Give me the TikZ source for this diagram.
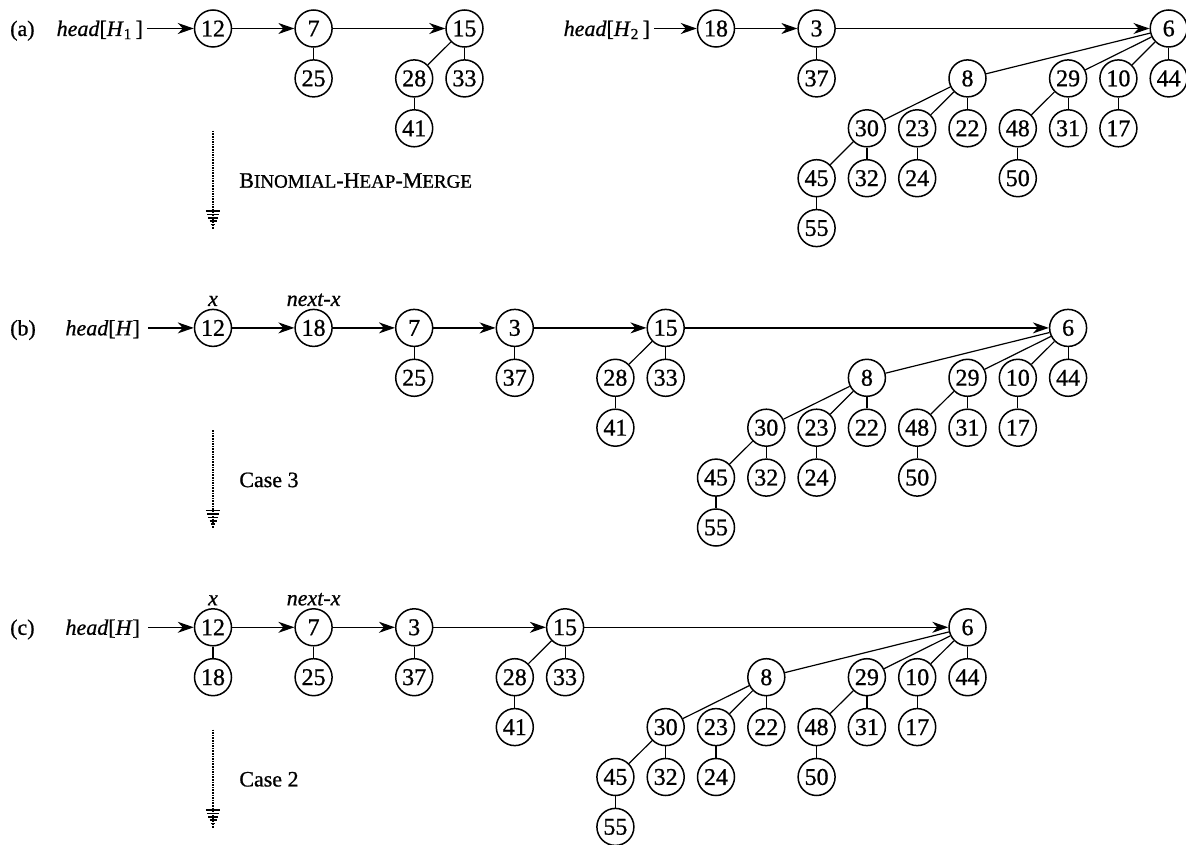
\documentclass[tikz,border=0pt]{standalone}
\usepackage{fontspec}
\setmainfont{Liberation Serif}[FakeBold=0.8]
\usetikzlibrary{arrows.meta}
\tikzset{
  dothead/.pic={
    \foreach \i in {0,...,5}{
      \draw[line width=1.6pt] ({-(1+1.25*\i)*1pt},{(1+3.4*\i)*1pt}) -- ({(1+1.25*\i)*1pt},{(1+3.4*\i)*1pt});
    }
  }
}
\begin{document}
\begin{tikzpicture}[x=50.3pt,y=-49.9pt,
  every node/.style={font=\fontsize{22}{26}\selectfont},
  nd/.style={circle,draw,line width=1.5pt,minimum size=37pt,inner sep=0pt,font=\fontsize{24}{28}\selectfont},
  ed/.style={line width=1.2pt},
  lnk/.style={line width=1.2pt,-{Stealth[length=16pt,width=11pt,inset=5pt]}},
  lbl/.style={inner sep=0pt},
  dots/.style={line width=2.3pt,dash pattern=on 1.6pt off 1.0pt}]
\useasboundingbox (-4.2346,-0.571) rectangle (19.344,16.343);

% ---------- labels ----------
\node[lbl,anchor=base west] (alab) at (-4.036,0.15) {(a)};
\node[lbl,anchor=base east] (ahead) at (-1.39,0.15) {\textit{head}[\textit{H}\textsubscript{1}\,]};
\node[lbl,anchor=base east] (ahead2) at (8.69,0.15) {\textit{head}[\textit{H}\textsubscript{2}\,]};
\node[lbl,anchor=base west] (blab) at (-4.036,6.15) {(b)};
\node[lbl,anchor=base east] (bhead) at (-1.45,6.15) {\textit{head}[\textit{H}]};
\node[lbl,anchor=base west] (clab) at (-4.036,12.15) {(c)};
\node[lbl,anchor=base east] (chead) at (-1.45,12.15) {\textit{head}[\textit{H}]};

\node[lbl,anchor=base] (bx) at (0,5.56) {\textit{x}};
\node[lbl,anchor=base] (bnx) at (2,5.56) {\textit{next-x}};
\node[lbl,anchor=base] (cx) at (0,11.56) {\textit{x}};
\node[lbl,anchor=base] (cnx) at (2,11.56) {\textit{next-x}};

\node[lbl,anchor=base west] (amerge) at (0.52,3.19) {B{\fontsize{19}{22}\selectfont INOMIAL}-H{\fontsize{19}{22}\selectfont EAP}-M{\fontsize{19}{22}\selectfont ERGE}};
\node[lbl,anchor=base west] (bcase) at (0.52,9.19) {Case 3};
\node[lbl,anchor=base west] (ccase) at (0.52,15.19) {Case 2};

% ---------- dotted arrows ----------
\foreach \pp/\rr in {a/0,b/6,c/12}{
  \coordinate (\pp dt) at (0,{\rr+2.05});
  \coordinate (\pp db) at (0,{\rr+4.02});
  \draw[dots] (\pp dt) -- (\pp db);
  \pic at (\pp db) {dothead};
}

% ---------- row (a) ----------
\node[nd] (a12) at (0,0) {12};
\node[nd] (a7) at (2,0) {7};
\node[nd] (a25) at (2,1) {25};
\node[nd] (a18) at (10,0) {18};
\node[nd] (a3) at (12,0) {3};
\node[nd] (a37) at (12,1) {37};

% ---------- row (b) ----------
\node[nd] (b12) at (0,6) {12};
\node[nd] (b18) at (2,6) {18};
\node[nd] (b7) at (4,6) {7};
\node[nd] (b25) at (4,7) {25};
\node[nd] (b3) at (6,6) {3};
\node[nd] (b37) at (6,7) {37};

% ---------- row (c) ----------
\node[nd] (c12) at (0,12) {12};
\node[nd] (c18) at (0,13) {18};
\node[nd] (c7) at (2,12) {7};
\node[nd] (c25) at (2,13) {25};
\node[nd] (c3) at (4,12) {3};
\node[nd] (c37) at (4,13) {37};

% ---------- trees rooted at 15 ----------
\foreach \pp/\cc/\rr in {a/5/0,b/9/6,c/7/12}{
  \node[nd] (\pp15) at (\cc,\rr) {15};
  \node[nd] (\pp28) at ({\cc-1},{\rr+1}) {28};
  \node[nd] (\pp33) at (\cc,{\rr+1}) {33};
  \node[nd] (\pp41) at ({\cc-1},{\rr+2}) {41};
  \draw[ed] (\pp15) -- (\pp28);
  \draw[ed] (\pp15) -- (\pp33);
  \draw[ed] (\pp28) -- (\pp41);
}

% ---------- trees rooted at 6 ----------
\foreach \pp/\cc/\rr in {a/19/0,b/17/6,c/15/12}{
  \node[nd] (\pp6) at (\cc,\rr) {6};
  \node[nd] (\pp8) at ({\cc-4},{\rr+1}) {8};
  \node[nd] (\pp29) at ({\cc-2},{\rr+1}) {29};
  \node[nd] (\pp10) at ({\cc-1},{\rr+1}) {10};
  \node[nd] (\pp44) at (\cc,{\rr+1}) {44};
  \node[nd] (\pp30) at ({\cc-6},{\rr+2}) {30};
  \node[nd] (\pp23) at ({\cc-5},{\rr+2}) {23};
  \node[nd] (\pp22) at ({\cc-4},{\rr+2}) {22};
  \node[nd] (\pp48) at ({\cc-3},{\rr+2}) {48};
  \node[nd] (\pp31) at ({\cc-2},{\rr+2}) {31};
  \node[nd] (\pp17) at ({\cc-1},{\rr+2}) {17};
  \node[nd] (\pp45) at ({\cc-7},{\rr+3}) {45};
  \node[nd] (\pp32) at ({\cc-6},{\rr+3}) {32};
  \node[nd] (\pp24) at ({\cc-5},{\rr+3}) {24};
  \node[nd] (\pp50) at ({\cc-3},{\rr+3}) {50};
  \node[nd] (\pp55) at ({\cc-7},{\rr+4}) {55};
  \draw[ed] (\pp6) -- (\pp8);
  \draw[ed] (\pp6) -- (\pp29);
  \draw[ed] (\pp6) -- (\pp10);
  \draw[ed] (\pp6) -- (\pp44);
  \draw[ed] (\pp8) -- (\pp30);
  \draw[ed] (\pp8) -- (\pp23);
  \draw[ed] (\pp8) -- (\pp22);
  \draw[ed] (\pp29) -- (\pp48);
  \draw[ed] (\pp29) -- (\pp31);
  \draw[ed] (\pp10) -- (\pp17);
  \draw[ed] (\pp30) -- (\pp45);
  \draw[ed] (\pp30) -- (\pp32);
  \draw[ed] (\pp23) -- (\pp24);
  \draw[ed] (\pp48) -- (\pp50);
  \draw[ed] (\pp45) -- (\pp55);
}

% ---------- child edges ----------
\draw[ed] (a7) -- (a25);
\draw[ed] (a3) -- (a37);
\draw[ed] (b7) -- (b25);
\draw[ed] (b3) -- (b37);
\draw[ed] (c12) -- (c18);
\draw[ed] (c7) -- (c25);
\draw[ed] (c3) -- (c37);

% ---------- root-list links ----------
\draw[lnk,shorten <=4pt] (ahead.east |- a12.center) -- (a12);
\draw[lnk] (a12) -- (a7);
\draw[lnk] (a7) -- (a15);
\draw[lnk,shorten <=4pt] (ahead2.east |- a18.center) -- (a18);
\draw[lnk] (a18) -- (a3);
\draw[lnk] (a3) -- (a6);

\draw[lnk,shorten <=8pt] (bhead.east |- b12.center) -- (b12);
\draw[lnk] (b12) -- (b18);
\draw[lnk] (b18) -- (b7);
\draw[lnk] (b7) -- (b3);
\draw[lnk] (b3) -- (b15);
\draw[lnk] (b15) -- (b6);

\draw[lnk,shorten <=8pt] (chead.east |- c12.center) -- (c12);
\draw[lnk] (c12) -- (c7);
\draw[lnk] (c7) -- (c3);
\draw[lnk] (c3) -- (c15);
\draw[lnk] (c15) -- (c6);
\end{tikzpicture}
\end{document}
